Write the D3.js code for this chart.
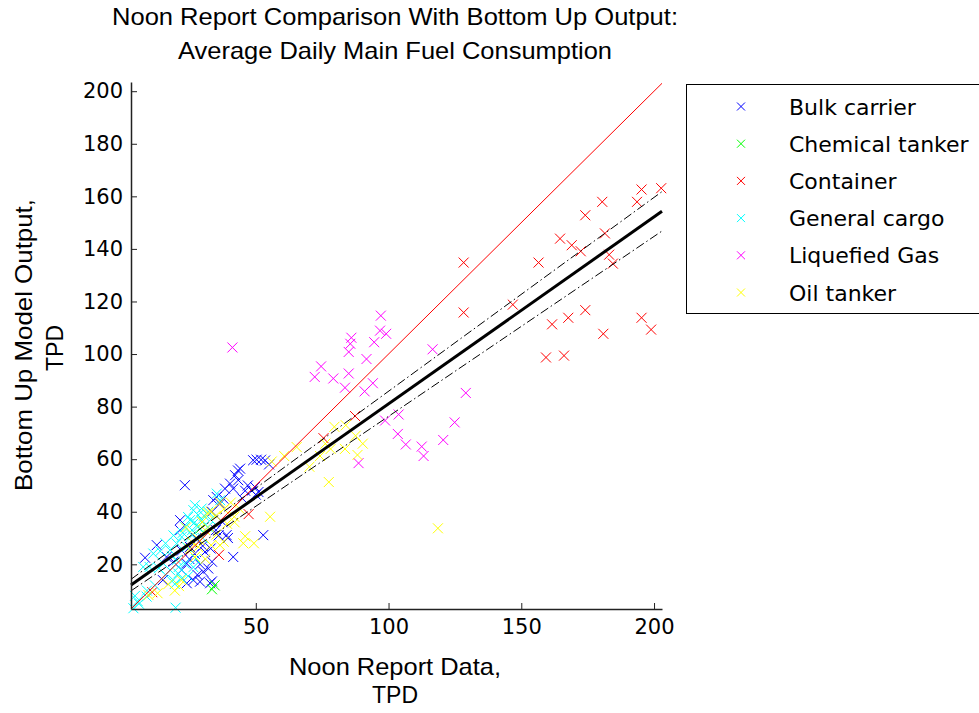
<!DOCTYPE html>
<meta charset="utf-8">
<head>
    <title>Noon report comparison</title>
    <script src="https://cdn.jsdelivr.net/npm/d3@7"></script>
</head>
<style>
    body { margin: 0; background: #fff; }
    text { fill: #000; }
    .tick text { font-family: "DejaVu Sans", sans-serif; font-size: 21px; }
    .axis path, .axis line { stroke: #222; }
</style>
<svg></svg>
<script>
    // chart values
    var categories = ["Bulk carrier", "Chemical tanker", "Container", "General cargo", "Liquefied Gas", "Oil tanker"];
    var colors = ["#0000ff", "#00ff00", "#ff0000", "#00ffff", "#ff00ff", "#ffff00"];

    var bulkX = [23.3, 50.3, 52, 53.5, 49, 55, 44.1, 43.3, 42.2, 43.4, 40.3, 38.4, 41.5, 35.3, 34, 36.5, 37.8, 49.7, 51, 48.5, 50, 52.8, 41.5, 39, 39.5, 32.8, 33.5, 21.5, 21.5, 12.7, 8.3, 16.4, 25.2, 24, 22.1, 26.5, 24, 29, 30.2, 32.1, 30.9, 22.1, 27, 36, 35, 30, 33, 46, 47,
        27.5, 29, 25, 33.5, 28, 19, 15, 37.5, 45, 33.5];
    var bulkY = [50.1, 59.8, 59.8, 59.5, 59.6, 58, 56.4, 55.7, 53.9, 52, 50.7, 48.8, 48.8, 45.6, 44.4, 43.1, 45, 49.4, 47.5, 48, 46.5, 31.1, 22.8, 31.1, 30, 12.8, 13.5, 36.8, 33, 27.3, 22.5, 22.8, 26.6, 20.3, 17.8, 14, 12.8, 13.4, 17.2, 18.4, 24.7, 25.2, 24, 31, 33, 27, 26, 48, 50,
        30, 20, 22, 21, 16, 21, 14, 36, 45, 40];
    var chemX = [33.5, 34.5, 29];
    var chemY = [10.5, 12, 33.5];
    var contX = [202.7, 195.3, 193.6, 180.5, 174.1, 181.5, 164.6, 169, 172.4, 183.1, 184.5, 156.5, 128.3, 146.8, 128.3, 174.1, 167.7, 161.6, 195.3, 198.9, 180.9, 159.3, 166.1, 87.4, 75.5, 47.3, 36.1, 11];
    var contY = [163.1, 162.6, 157.9, 157.9, 152.8, 145.9, 143.9, 141.4, 139.1, 137.8, 134.4, 134.8, 134.8, 118.8, 115.8, 116.7, 113.8, 111.3, 113.8, 109.3, 107.7, 98.7, 99.4, 76.4, 68, 39.1, 23.6, 9.4];
    var cargoX = [19.8, 3.9, 8.9, 7.6, 26.5, 28.3, 29.6, 25.2, 23.3, 28.1, 31.9, 22.1, 26, 20.2, 24, 17.7, 20.2, 23.3, 17.7, 20.8, 18.9, 22.1, 26.5, 15.2, 11.4, 35.3, 36.6, 29.6, 32.1, 27.1, 5.5, 10, 30, 33,
        24.5, 27, 30.5, 26, 22.5, 19, 16, 14, 18.5, 21, 16, 13.5, 19.5, 24.5, 27.5, 6, 9, 12, 4.5];
    var cargoY = [3.5, 3.3, 7.7, 19, 40.6, 38.7, 36.8, 36.8, 34.2, 34.2, 34.2, 30.4, 31, 27.9, 26.6, 25.4, 21.6, 20.3, 17.8, 16.5, 14, 14.6, 18.9, 20.3, 24.1, 46.9, 44.4, 41.2, 40, 42.5, 6, 19, 30, 37,
        38, 36, 38.5, 33, 32, 31, 28, 25, 23, 19, 16, 18.5, 12.5, 15.5, 22, 5, 10, 12, 8];
    var gasX = [41.2, 97.1, 96.8, 99.1, 86, 85.6, 85, 94.6, 91.7, 116.6, 74.6, 72.2, 79.2, 85, 83.6, 91, 94.1, 129.1, 98.7, 103.8, 103.5, 106.5, 112.5, 113.2, 120.6, 124.9, 88.7];
    var gasY = [102.5, 114.6, 108.9, 107.7, 106.2, 103.9, 100.8, 104.5, 98.1, 101.8, 95.3, 91.3, 90.7, 92.6, 87.2, 85.8, 88.9, 85.2, 74.7, 77, 69.6, 65.6, 64.8, 61.2, 67.3, 74, 58.5];
    var oilX = [118.6, 77.5, 79.6, 83.9, 87.6, 90.3, 88.3, 83.6, 78.2, 76.2, 74.2, 65.4, 60.7, 56, 70.2, 55.4, 46, 49.3, 45.3, 17, 21.1, 39.2, 40.6, 41.9, 35.2, 27.8, 23.7, 29.8, 33.2, 37.9, 9.6, 31.8, 36.5, 28.3, 25.2, 36.5, 27.1,
        33, 35, 38, 31, 29, 26, 42, 44, 31, 22, 13, 19.5];
    var oilY = [33.7, 51.3, 72.3, 72.9, 68.9, 65.9, 61.6, 63.9, 63.9, 65.9, 61.2, 64.6, 61.2, 59.1, 57.1, 38.1, 30.7, 28, 28, 12.4, 11.7, 35.4, 43.5, 38.1, 31.3, 30, 34, 36.1, 27.3, 28.6, 8.3, 39.5, 43.5, 26.6, 26, 27.3, 22.8,
        40, 38.5, 41, 33, 29, 28.5, 36, 41, 22, 14, 9, 10];

    // fitted line and its bounds, end points
    var fitX = [3, 203];
    var fitY = [12.1, 154.3];
    var upperY = [14.3, 161.8];
    var lowerY = [9.9, 146.8];

    var xTicks = [50, 100, 150, 200];
    var yTicks = [20, 40, 60, 80, 100, 120, 140, 160, 180, 200];

    var seriesX = [bulkX, chemX, contX, cargoX, gasX, oilX];
    var seriesY = [bulkY, chemY, contY, cargoY, gasY, oilY];

    var vWidth = 979, vHeight = 713;
    var svg = d3.select('svg').attr('width', vWidth).attr('height', vHeight);

    var x = d3.scaleLinear().domain([3, 203]).range([131, 662]);
    var y = d3.scaleLinear().domain([3, 203.5]).range([609, 82]);

    // scatter, one group per category
    var s = 5;
    seriesX.forEach(function (xs, i) {
        var g = svg.append('g').attr('stroke', colors[i]).attr('stroke-width', 1);
        xs.forEach(function (v, j) {
            var cx = x(v), cy = y(seriesY[i][j]);
            g.append('path')
                .attr('d', 'M' + (cx - s) + ',' + (cy - s) + 'L' + (cx + s) + ',' + (cy + s) +
                    'M' + (cx - s) + ',' + (cy + s) + 'L' + (cx + s) + ',' + (cy - s));
        });
    });

    // y = x reference line
    svg.append('line')
        .attr('x1', x(3)).attr('y1', y(3))
        .attr('x2', x(203)).attr('y2', y(203))
        .attr('stroke', '#ff0000').attr('stroke-width', 1);

    var line = d3.line().x(function (d) { return x(d[0]); }).y(function (d) { return y(d[1]); });
    [upperY, lowerY].forEach(function (ys) {
        svg.append('path')
            .attr('d', line(d3.zip(fitX, ys)))
            .attr('fill', 'none').attr('stroke', '#000').attr('stroke-width', 1)
            .attr('stroke-dasharray', '9,3,1.5,3');
    });
    svg.append('path')
        .attr('d', line(d3.zip(fitX, fitY)))
        .attr('fill', 'none').attr('stroke', '#000').attr('stroke-width', 3);

    // axes, ticks pointing inwards
    svg.append('g').attr('class', 'axis')
        .attr('transform', 'translate(0,609)')
        .call(d3.axisBottom(x).tickValues(xTicks).tickSizeInner(-6).tickSizeOuter(0).tickPadding(10));
    svg.append('g').attr('class', 'axis')
        .attr('transform', 'translate(131,0)')
        .call(d3.axisLeft(y).tickValues(yTicks).tickSizeInner(-6).tickSizeOuter(0).tickPadding(8));
    svg.selectAll('.axis .domain').attr('stroke-width', 1.5);

    // titles
    function label(txt, px, py, len, size, rot) {
        var t = svg.append('text')
            .attr('text-anchor', 'middle')
            .attr('font-family', 'Liberation Sans, Arial, sans-serif')
            .attr('font-size', size)
            .attr('textLength', len).attr('lengthAdjust', 'spacingAndGlyphs')
            .text(txt);
        if (rot) t.attr('transform', 'translate(' + px + ',' + py + ') rotate(-90)');
        else t.attr('x', px).attr('y', py);
    }
    label('Noon Report Comparison With Bottom Up Output:', 395, 25, 566, 24);
    label('Average Daily Main Fuel Consumption', 395, 59, 434, 24);
    label('Noon Report Data,', 395, 675, 212, 24);
    label('TPD', 395, 703, 46, 24);
    label('Bottom Up Model Output,', 32, 345, 292, 24, true);
    label('TPD', 63, 348, 46, 24, true);

    // legend
    var lg = svg.append('g');
    lg.append('rect').attr('x', 686.5).attr('y', 84.5).attr('width', 400).attr('height', 229)
        .attr('fill', '#fff').attr('stroke', '#000').attr('stroke-width', 1);
    categories.forEach(function (c, i) {
        var ly = 106.5 + i * 37.2;
        lg.append('path')
            .attr('d', 'M737,' + (ly - 4) + 'L745,' + (ly + 4) + 'M737,' + (ly + 4) + 'L745,' + (ly - 4))
            .attr('stroke', colors[i]).attr('stroke-width', 1);
        lg.append('text').attr('x', 789).attr('y', ly + 8)
            .attr('font-family', 'DejaVu Sans, sans-serif').attr('font-size', 22)
            .text(c);
    });
</script>
